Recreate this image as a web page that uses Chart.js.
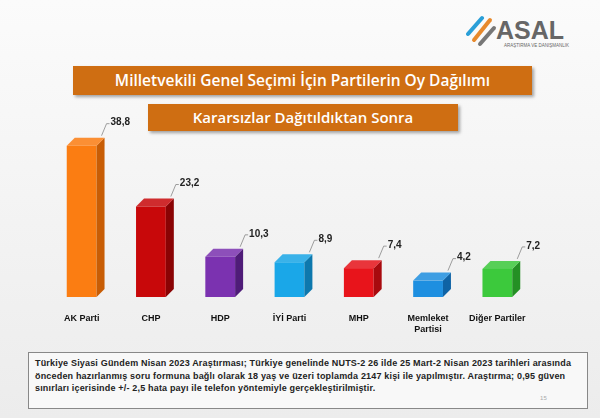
<!DOCTYPE html>
<html><head><meta charset="utf-8">
<script src="https://cdn.jsdelivr.net/npm/chart.js@4"></script>
<style>
body{margin:0;width:600px;height:418px;overflow:hidden;background:linear-gradient(#fbfbfb,#ececec);font-family:"Liberation Sans",Arial,sans-serif;position:relative}
.box{position:absolute;background:#cf6e12;color:#fff;font-family:"Open Sans",sans-serif;font-weight:600;text-align:center;box-shadow:2px 2px 3px rgba(0,0,0,.35)}
#foot{position:absolute;left:28px;top:352px;width:560px;height:57px;border:1px solid #888;background:#f8f8f8;font-family:"Liberation Sans",sans-serif;font-size:9px;font-weight:bold;line-height:12.5px;padding:4px 6px;box-sizing:border-box;color:#222;letter-spacing:0.18px;white-space:nowrap}
#logo{position:absolute;left:466px;top:12px;width:120px;height:40px}
#cw{position:absolute;left:0;top:102px;width:600px;height:235px}
</style></head><body>
<div id="logo"><svg width="120" height="40"><g stroke-width="4" stroke-linecap="round"><line x1="8" y1="28" x2="24" y2="8" stroke="#e7892c"/><line x1="2" y1="22" x2="16" y2="6" stroke="#2a9fd8"/><line x1="14" y1="32" x2="28" y2="16" stroke="#777"/></g><text x="30" y="27" font-family="Liberation Sans" font-weight="bold" font-size="25" fill="#666">ASAL</text><text x="38" y="35" font-size="4.5" fill="#666">ARAŞTIRMA VE DANIŞMANLIK</text></svg></div>
<div class="box" style="left:73px;top:66px;width:459px;height:29px;line-height:29px;font-size:15.5px">Milletvekili Genel Seçimi İçin Partilerin Oy Dağılımı</div>
<div class="box" style="left:148px;top:104px;width:310px;height:27px;line-height:27px;font-size:15px">Kararsızlar Dağıtıldıktan Sonra</div>
<div id="cw"><canvas id="c"></canvas></div>
<div id="foot">Türkiye Siyasi Gündem Nisan 2023 Araştırması; Türkiye genelinde NUTS-2 26 ilde 25 Mart-2 Nisan 2023 tarihleri arasında<br>önceden hazırlanmış soru formuna bağlı olarak 18 yaş ve üzeri toplamda 2147 kişi ile yapılmıştır. Araştırma; 0,95 güven<br>sınırları içerisinde +/- 2,5 hata payı ile telefon yöntemiyle gerçekleştirilmiştir.<span style="position:absolute;right:40px;bottom:4px;font-size:6px;color:#aaa;font-weight:normal">15</span></div>
<script>
const categories=["AK Parti","CHP","HDP","İYİ Parti","MHP",["Memleket","Partisi"],"Diğer Partiler"];
const values=[38.8,23.2,10.3,8.9,7.4,4.2,7.2];
const colors=["#fb7d12","#c8080a","#7b32b0","#1aa7e8","#e8141b","#1e8fe0","#3cc93c"];
const sides=["#c85d05","#8a0304","#4f1c78","#0d78ad","#a80a0e","#0f63a5","#249024"];
const bar3d={id:'bar3d',afterDatasetsDraw(ch){const ctx=ch.ctx;const m=ch.getDatasetMeta(0);const d=8;
m.data.forEach((b,i)=>{const w=b.width,x0=b.x-w/2,x1=b.x+w/2,y=b.y,base=b.base;
ctx.save();
ctx.fillStyle=sides[i];ctx.beginPath();ctx.moveTo(x1,y);ctx.lineTo(x1+d,y-d);ctx.lineTo(x1+d,base-d);ctx.lineTo(x1,base);ctx.closePath();ctx.fill();
ctx.fillStyle=colors[i];ctx.globalAlpha=0.85;ctx.beginPath();ctx.moveTo(x0,y);ctx.lineTo(x0+d,y-d);ctx.lineTo(x1+d,y-d);ctx.lineTo(x1,y);ctx.closePath();ctx.fill();
ctx.globalAlpha=1;
ctx.strokeStyle='#777';ctx.lineWidth=0.7;ctx.beginPath();ctx.moveTo(x1+d-3,y-d-2);ctx.lineTo(x1+10,y-22);ctx.lineTo(x1+13,y-22);ctx.stroke();
ctx.fillStyle='#222';ctx.font='bold 10px "Liberation Sans"';ctx.textBaseline='middle';ctx.fillText(String(values[i]).replace('.',','),x1+14,y-23);
ctx.restore();});}};
new Chart(document.getElementById('c'),{type:'bar',
data:{labels:categories,datasets:[{data:values,backgroundColor:colors,barPercentage:0.43,categoryPercentage:1}]},
options:{responsive:true,maintainAspectRatio:false,animation:false,
layout:{padding:{left:47,right:68,top:0,bottom:0}},
plugins:{legend:{display:false},tooltip:{enabled:false}},
scales:{y:{display:false,min:0,max:50},
x:{grid:{display:false},border:{display:false},ticks:{color:'#111',font:{size:9,weight:'bold',family:'Liberation Sans'},padding:8,maxRotation:0},afterFit:s=>{s.height=40;}}}},
plugins:[bar3d]});
</script></body></html>
